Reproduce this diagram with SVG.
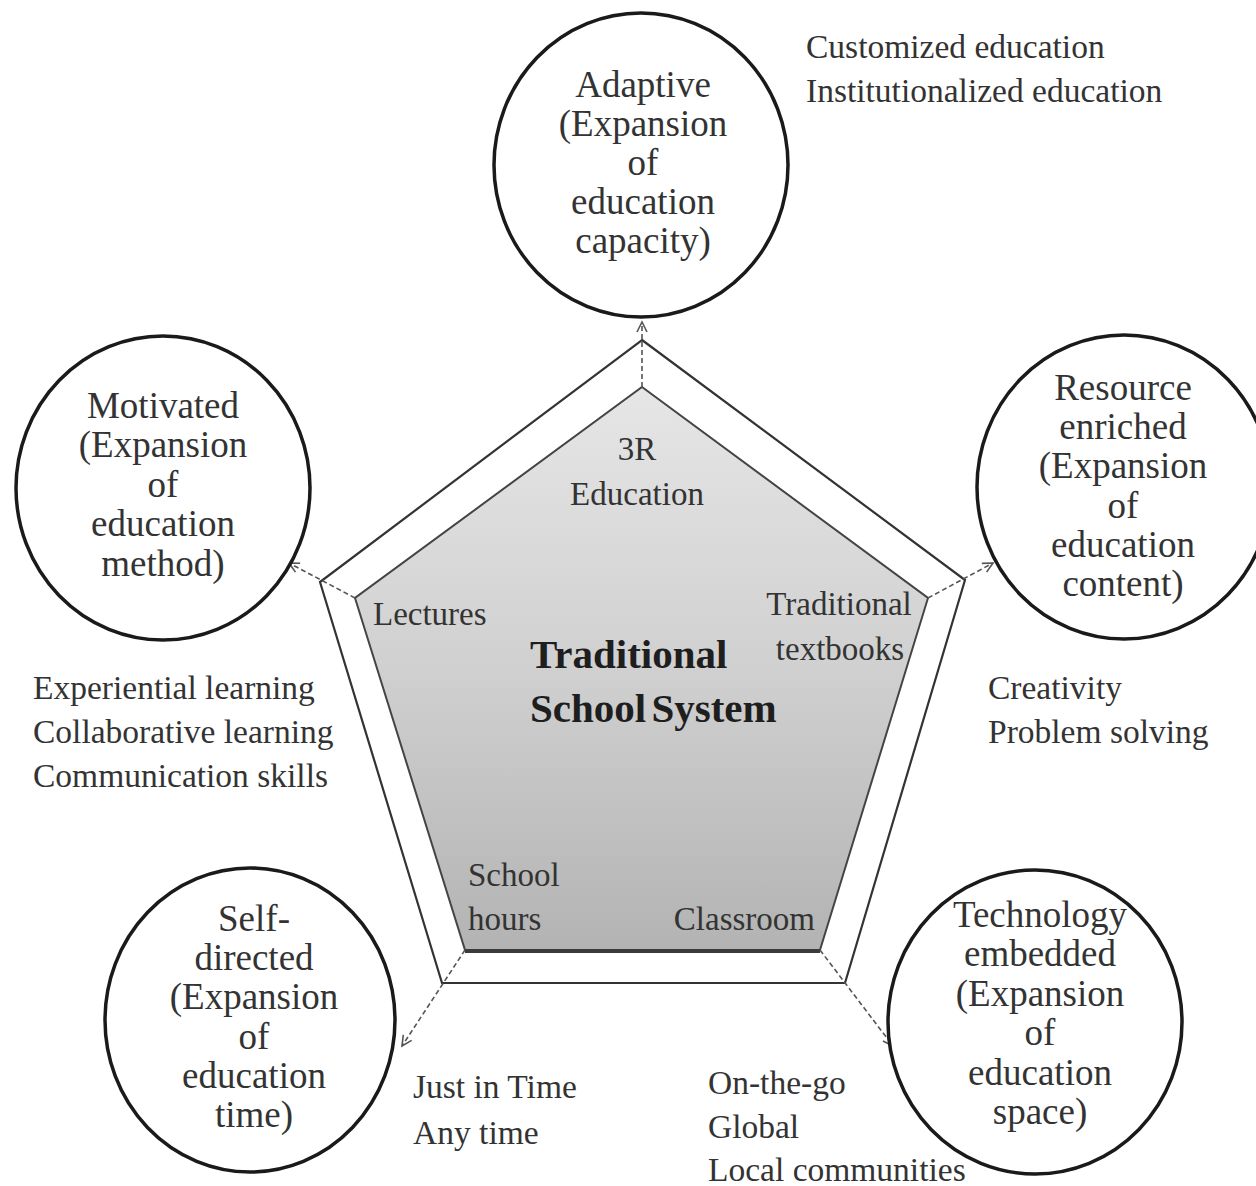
<svg xmlns="http://www.w3.org/2000/svg" width="1256" height="1186" viewBox="0 0 1256 1186">
  <style>
    text { font-family: "Liberation Serif", "Times New Roman", serif; fill: #333333; }
    .circ { fill: #ffffff; stroke: #1a1a1a; stroke-width: 3.5; }
    .ctext { font-size: 37px; text-anchor: middle; }
    .side { font-size: 33.5px; }
    .inner { font-size: 33px; }
    .title { font-size: 41px; font-weight: bold; fill: #1e1e1e; }
    .outer { fill: none; stroke: #333333; stroke-width: 2.2; stroke-linejoin: miter; }
    .innerpoly { fill: url(#grey); stroke: #444444; stroke-width: 2; }
    .conn { fill: none; stroke: #555555; stroke-width: 1.6; stroke-dasharray: 5 3; }
  </style>
  <defs>
    <linearGradient id="grey" x1="0" y1="0" x2="0" y2="1">
      <stop offset="0" stop-color="#e6e6e6"/>
      <stop offset="0.5" stop-color="#d0d0d0"/>
      <stop offset="1" stop-color="#b3b3b3"/>
    </linearGradient>
    <marker id="arrow" markerUnits="userSpaceOnUse" markerWidth="14" markerHeight="14" refX="11" refY="6" orient="auto">
      <path d="M1,1 L11,6 L1,11" fill="none" stroke="#555555" stroke-width="1.6"/>
    </marker>
  </defs>
  <rect x="0" y="0" width="1256" height="1186" fill="#ffffff"/>

  <g id="traditional-school-system">
    <polygon class="outer" points="642,340 965,580 845,983 442,983 320,582"/>
    <polygon class="innerpoly" points="642,387 928,598 820,950 465,950 355,598"/>
    <line x1="465" y1="951" x2="820" y2="951" stroke="#3a3a3a" stroke-width="4"/>
    <text class="inner" x="637" y="460" text-anchor="middle">3R</text>
    <text class="inner" x="637" y="505" text-anchor="middle">Education</text>
    <text class="inner" x="373" y="625">Lectures</text>
    <text class="inner" x="839" y="615" text-anchor="middle">Traditional</text>
    <text class="inner" x="840" y="660" text-anchor="middle">textbooks</text>
    <text class="title" x="530" y="668">Traditional</text>
    <text class="title" x="530" y="722" word-spacing="-5">School System</text>
    <text class="inner" x="468" y="886">School</text>
    <text class="inner" x="468" y="930">hours</text>
    <text class="inner" x="815" y="930" text-anchor="end">Classroom</text>
  </g>

  <g id="connectors">
    <line class="conn" x1="642" y1="387" x2="642" y2="322" marker-end="url(#arrow)"/>
    <line class="conn" x1="355" y1="598" x2="289" y2="563" marker-end="url(#arrow)"/>
    <line class="conn" x1="928" y1="598" x2="993" y2="563" marker-end="url(#arrow)"/>
    <line class="conn" x1="465" y1="950" x2="402" y2="1046" marker-end="url(#arrow)"/>
    <line class="conn" x1="820" y1="950" x2="893" y2="1046" marker-end="url(#arrow)"/>
  </g>

  <g id="adaptive">
    <ellipse class="circ" cx="641" cy="165" rx="147" ry="152"/>
    <text class="ctext" x="643" y="97">Adaptive</text>
    <text class="ctext" x="643" y="136">(Expansion</text>
    <text class="ctext" x="643" y="175">of</text>
    <text class="ctext" x="643" y="214">education</text>
    <text class="ctext" x="643" y="253">capacity)</text>
  </g>
  <g id="adaptive-notes">
    <text class="side" x="806" y="58">Customized education</text>
    <text class="side" x="806" y="102">Institutionalized education</text>
  </g>

  <g id="motivated">
    <ellipse class="circ" cx="163" cy="488" rx="147" ry="152"/>
    <text class="ctext" x="163" y="418">Motivated</text>
    <text class="ctext" x="163" y="457">(Expansion</text>
    <text class="ctext" x="163" y="497">of</text>
    <text class="ctext" x="163" y="536">education</text>
    <text class="ctext" x="163" y="576">method)</text>
  </g>
  <g id="motivated-notes">
    <text class="side" x="33" y="699">Experiential learning</text>
    <text class="side" x="33" y="743">Collaborative learning</text>
    <text class="side" x="33" y="787">Communication skills</text>
  </g>

  <g id="resource-enriched">
    <ellipse class="circ" cx="1124" cy="487" rx="147" ry="152"/>
    <text class="ctext" x="1123" y="400">Resource</text>
    <text class="ctext" x="1123" y="439">enriched</text>
    <text class="ctext" x="1123" y="478">(Expansion</text>
    <text class="ctext" x="1123" y="518">of</text>
    <text class="ctext" x="1123" y="557">education</text>
    <text class="ctext" x="1123" y="596">content)</text>
  </g>
  <g id="resource-notes">
    <text class="side" x="988" y="699">Creativity</text>
    <text class="side" x="988" y="743">Problem solving</text>
  </g>

  <g id="self-directed">
    <ellipse class="circ" cx="250" cy="1020" rx="145" ry="152"/>
    <text class="ctext" x="254" y="931">Self-</text>
    <text class="ctext" x="254" y="970">directed</text>
    <text class="ctext" x="254" y="1009">(Expansion</text>
    <text class="ctext" x="254" y="1049">of</text>
    <text class="ctext" x="254" y="1088">education</text>
    <text class="ctext" x="254" y="1127">time)</text>
  </g>
  <g id="self-directed-notes">
    <text class="side" x="413" y="1098">Just in Time</text>
    <text class="side" x="413" y="1144">Any time</text>
  </g>

  <g id="technology-embedded">
    <ellipse class="circ" cx="1035" cy="1022" rx="147" ry="152"/>
    <text class="ctext" x="1040" y="927">Technology</text>
    <text class="ctext" x="1040" y="966">embedded</text>
    <text class="ctext" x="1040" y="1006">(Expansion</text>
    <text class="ctext" x="1040" y="1045">of</text>
    <text class="ctext" x="1040" y="1085">education</text>
    <text class="ctext" x="1040" y="1124">space)</text>
  </g>
  <g id="technology-notes">
    <text class="side" x="708" y="1094">On-the-go</text>
    <text class="side" x="708" y="1138">Global</text>
    <text class="side" x="708" y="1181">Local communities</text>
  </g>
</svg>
